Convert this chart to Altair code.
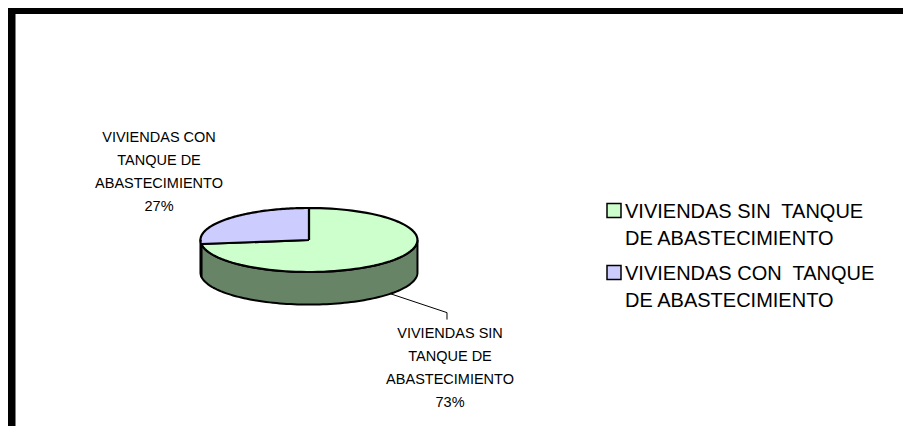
import altair as alt
import pandas as pd

# ---- data ----
categories = ["VIVIENDAS SIN  TANQUE DE ABASTECIMIENTO",
              "VIVIENDAS CON  TANQUE DE ABASTECIMIENTO"]
shares = [73, 27]
slice_labels = ["VIVIENDAS SIN\nTANQUE DE\nABASTECIMIENTO",
                "VIVIENDAS CON\nTANQUE DE\nABASTECIMIENTO"]
legend_labels = ["VIVIENDAS SIN\u00a0 TANQUE\nDE ABASTECIMIENTO",
                 "VIVIENDAS CON\u00a0 TANQUE\nDE ABASTECIMIENTO"]

# ---- styles ----
top_colors = ["#CCFFCC", "#CCCCFF"]
side_colors = ["#678467", "#676784"]
FONT = "Liberation Sans"

# ---- geometry / layout ----
N = 90
TILT = 0.295
DEPTH = 0.30
W, H = 895, 418
XDOM = [-2.774, 5.475]
YDOM = [-1.714, 2.138]

df = pd.DataFrame({
    "idx": list(range(len(categories))),
    "category": categories,
    "share": shares,
    "slice_label": slice_labels,
    "legend_label": legend_labels,
})

xs = alt.Scale(domain=XDOM, nice=False, zero=False)
ys = alt.Scale(domain=YDOM, nice=False, zero=False)


def X(f):
    return alt.X(f"{f}:Q", scale=xs, axis=None)


def Y(f):
    return alt.Y(f"{f}:Q", scale=ys, axis=None)


base = alt.Chart(df).transform_joinaggregate(
    total="sum(share)"
).transform_window(
    cum="sum(share)", sort=[alt.SortField("idx")], frame=[None, 0]
).transform_calculate(
    start="(datum.cum - datum.share) / datum.total"
).transform_calculate(
    end="datum.cum / datum.total"
).transform_calculate(
    mid="(datum.cum - datum.share / 2) / datum.total"
)

# visible front wall of the 3D pie
side = base.transform_calculate(
    vs="max(datum.start, 0.25)"
).transform_calculate(
    ve="min(datum.end, 0.75)"
).transform_filter(
    "datum.vs < datum.ve"
).transform_calculate(
    k=f"sequence(0, {2 * N + 3})"
).transform_flatten(["k"]).transform_calculate(
    t=f"datum.k <= {N} ? datum.k / {N} : (datum.k <= {2 * N + 1} ? ({2 * N + 1} - datum.k) / {N} : 0)"
).transform_calculate(
    bottom=f"(datum.k > {N} && datum.k <= {2 * N + 1}) ? 1 : 0"
).transform_calculate(
    a="2 * PI * (datum.vs + (datum.ve - datum.vs) * datum.t)"
).transform_calculate(
    px="sin(datum.a)"
).transform_calculate(
    py=f"cos(datum.a) * {TILT} - datum.bottom * {DEPTH}"
).mark_line(stroke="black", strokeWidth=2, strokeJoin="round").encode(
    x=X("px"), y=Y("py"), order=alt.Order("k:Q"),
    fill=alt.Fill("category:N", scale=alt.Scale(domain=categories, range=side_colors), legend=None),
    detail="category:N",
)

# top face sectors
top = base.transform_calculate(
    k=f"sequence(-1, {N + 2})"
).transform_flatten(["k"]).transform_calculate(
    edge=f"(datum.k >= 0 && datum.k <= {N}) ? 1 : 0"
).transform_calculate(
    a=f"2 * PI * (datum.start + (datum.end - datum.start) * clamp(datum.k, 0, {N}) / {N})"
).transform_calculate(
    px="datum.edge * sin(datum.a)"
).transform_calculate(
    py=f"datum.edge * cos(datum.a) * {TILT}"
).mark_line(stroke="black", strokeWidth=2.2, strokeJoin="round").encode(
    x=X("px"), y=Y("py"), order=alt.Order("k:Q"),
    fill=alt.Fill("category:N", scale=alt.Scale(domain=categories, range=top_colors), legend=None),
    detail="category:N",
)

# rim points at slice mid angles
rim = base.transform_calculate(
    a="2 * PI * datum.mid"
).transform_calculate(
    front="cos(datum.a) < 0 ? 1 : 0"
).transform_calculate(
    rx="sin(datum.a)"
).transform_calculate(
    ry=f"cos(datum.a) * {TILT} - datum.front * {DEPTH}"
).transform_calculate(
    lbl="datum.slice_label + '\\n' + format(datum.share / datum.total, '.0%')"
)

leader = rim.transform_filter("datum.front == 1").transform_calculate(
    k="sequence(0, 3)"
).transform_flatten(["k"]).transform_calculate(
    px="datum.rx + (datum.k > 0 ? 0.522 : 0)"
).transform_calculate(
    py="datum.ry + (datum.k > 0 ? -0.174 : 0) + (datum.k > 1 ? -0.064 : 0)"
).mark_line(color="black", strokeWidth=1).encode(
    x=X("px"), y=Y("py"), order=alt.Order("k:Q"), detail="category:N"
)

lower_lbl = rim.transform_filter("datum.front == 1").transform_calculate(
    px="datum.rx + 0.55"
).transform_calculate(
    py="datum.ry - 0.31"
).mark_text(
    align="center", baseline="top", font=FONT, fontSize=14.5, lineHeight=23,
    lineBreak="\n", color="black"
).encode(x=X("px"), y=Y("py"), text="lbl:N")

upper_lbl = rim.transform_filter("datum.front == 0").transform_calculate(
    px="datum.rx - 0.632"
).transform_calculate(
    py="datum.ry + 0.812"
).mark_text(
    align="center", baseline="top", font=FONT, fontSize=14.5, lineHeight=23,
    lineBreak="\n", color="black"
).encode(x=X("px"), y=Y("py"), text="lbl:N")

# legend
leg_y = alt.Y("idx:O", scale=alt.Scale(type="point", domain=list(range(len(categories))),
                                       range=[202.5, 264.5], padding=0), axis=None)

squares = alt.Chart(df).mark_square(
    size=196, stroke="black", strokeWidth=1.5, opacity=1
).encode(
    x=alt.value(606), y=leg_y,
    fill=alt.Fill("category:N", scale=alt.Scale(domain=categories, range=top_colors), legend=None),
)

legtext = alt.Chart(df).mark_text(
    align="left", baseline="top", dy=-8.6, font=FONT, fontSize=20, lineHeight=27,
    lineBreak="\n", color="black"
).encode(x=alt.value(617), y=leg_y, text="legend_label:N")

# chart frame
frame = alt.Chart(alt.Data(values=[{}])).mark_rect(
    fill="transparent", stroke="black", strokeWidth=8
).encode(x=alt.value(3.5), y=alt.value(2), x2=alt.value(3000), y2=alt.value(3000))

chart = alt.layer(
    frame, side, top, leader, lower_lbl, upper_lbl, squares, legtext
).resolve_scale(
    y="independent", fill="independent"
).properties(
    width=W, height=H, autosize=alt.AutoSizeParams(type="none"), padding=0,
    background="white"
).configure_view(stroke=None)

chart.save("out.html", embed_options={"renderer": "svg", "actions": False})
